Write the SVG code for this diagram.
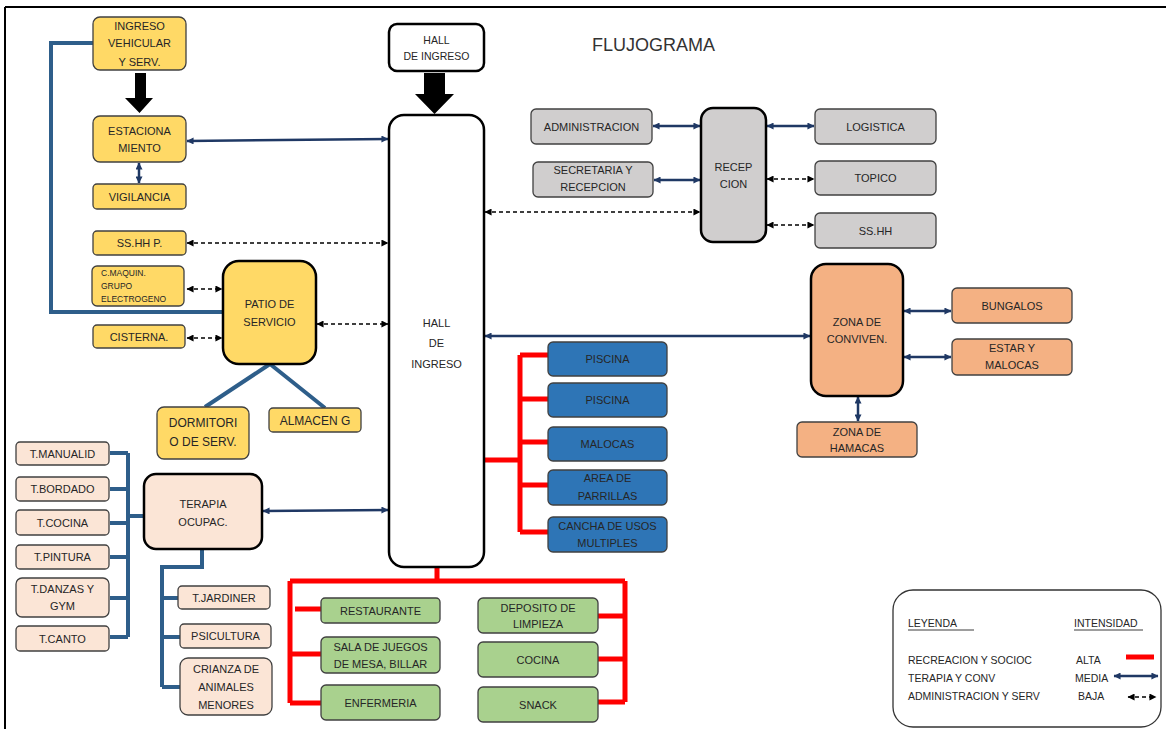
<svg xmlns="http://www.w3.org/2000/svg" width="1166" height="729" viewBox="0 0 1166 729">
<defs>
<marker id="nv" viewBox="0 0 8 8" refX="7.5" refY="4" markerWidth="8" markerHeight="7" markerUnits="userSpaceOnUse" orient="auto-start-reverse"><path d="M0,0 L8,4 L0,8 z" fill="#1F3864"/></marker>
<marker id="bk" viewBox="0 0 8 8" refX="7.5" refY="4" markerWidth="8" markerHeight="7" markerUnits="userSpaceOnUse" orient="auto-start-reverse"><path d="M0,0 L8,4 L0,8 z" fill="#000"/></marker>
<style>
text{font-family:"Liberation Sans",Arial,sans-serif;font-size:11px;fill:#262626;text-anchor:middle}
.b{stroke:#404040;stroke-width:1.3}
.big{stroke:#000;stroke-width:2.5}
.y{fill:#FFD966}.p{fill:#FBE5D6}.g{fill:#D0CECE}.o{fill:#F4B183}.bl{fill:#2E75B6}.gr{fill:#A9D18E}.w{fill:#fff}
.nv{fill:none;stroke:#1F3864;stroke-width:2.5;marker-start:url(#nv);marker-end:url(#nv)}
.ds{fill:none;stroke:#000;stroke-width:1.3;stroke-dasharray:4 3;marker-start:url(#bk);marker-end:url(#bk)}
.sb{fill:none;stroke:#2E5E8A;stroke-width:4}
.rd{fill:none;stroke:#FF0000;stroke-width:5}
.lg{text-anchor:start;font-size:10.5px}
</style>
</defs>
<rect width="1166" height="729" fill="#fff"/>
<path d="M5,7 H1166 M5,7 V729" stroke="#000" stroke-width="2" fill="none"/>
<text x="592" y="51" style="font-size:18px;text-anchor:start;fill:#333">FLUJOGRAMA</text>

<g id="connectors">
<polygon points="135,73 146,73 146,98 153,98 139.5,113 125,98 135,98" fill="#000"/>
<polygon points="424,73 445,73 445,94 454,94 434.5,114 415,94 424,94" fill="#000"/>
<path class="sb" d="M93,43 H51 V312 H223"/>
<path class="sb" d="M270,364 L205,407 M270,364 L325,408"/>
<path class="sb" d="M128,453 V637 M110,453 H128 M110,489 H128 M110,523 H128 M110,557 H128 M110,598 H128 M110,637 H128 M128,516 H144"/>
<path class="sb" d="M202,549 V567 H162 V687 M162,598 H178 M162,637 H180 M162,687 H180"/>
<path class="rd" d="M485,460 H520 M520,355 V532 M520,355 H548 M520,399 H548 M520,442 H548 M520,485 H548 M520,532 H548"/>
<path class="rd" d="M437,567 V581 M290,581 H625 M290,581 V703 M625,581 V702 M295,609 H321 M290,654 H321 M290,703 H321 M598,616 H625 M598,659 H625 M598,702 H625"/>
<path class="nv" d="M187,141 L388,139"/>
<path class="nv" d="M139,163 V183"/>
<path class="nv" d="M263,511 L388,510"/>
<path class="nv" d="M485,336 H810"/>
<path class="nv" d="M653,126 H700"/>
<path class="nv" d="M654,180 H700"/>
<path class="nv" d="M767,126 H814"/>
<path class="nv" d="M904,311 H951"/>
<path class="nv" d="M904,357 H951"/>
<path class="nv" d="M858,397 V421"/>
<path class="ds" d="M187,243 H388"/>
<path class="ds" d="M187,289 H222"/>
<path class="ds" d="M187,338 H222"/>
<path class="ds" d="M317,324 H388"/>
<path class="ds" d="M485,212 H700"/>
<path class="ds" d="M767,179 H814"/>
<path class="ds" d="M767,225 H814"/>
</g>

<g id="ingreso"><rect class="b y" x="93" y="17" width="93" height="53" rx="7"/><text x="139.5" y="30">INGRESO</text><text x="139.5" y="47">VEHICULAR</text><text x="139.5" y="66">Y SERV.</text></g>
<g id="estacionamiento"><rect class="b y" x="93" y="116" width="93" height="46" rx="7"/><text x="139.5" y="135">ESTACIONA</text><text x="139.5" y="152">MIENTO</text></g>
<g id="vigilancia"><rect class="b y" x="93" y="184" width="93" height="25" rx="4"/><text x="139.5" y="200.5">VIGILANCIA</text></g>
<g id="sshhp"><rect class="b y" x="93" y="231" width="93" height="24" rx="4"/><text x="139.5" y="247">SS.HH P.</text></g>
<g id="cmaquin"><rect class="b y" x="92" y="266" width="92" height="40" rx="5"/><text x="101" y="276" style="text-anchor:start;font-size:8.5px">C.MAQUIN.</text><text x="101" y="289" style="text-anchor:start;font-size:8.5px">GRUPO</text><text x="101" y="302" style="text-anchor:start;font-size:8.5px">ELECTROGENO</text></g>
<g id="cisterna"><rect class="b y" x="93" y="325" width="92" height="23" rx="4"/><text x="139" y="341">CISTERNA.</text></g>
<g id="patio"><rect class="big y" x="223" y="261" width="93" height="103" rx="16"/><text x="269.5" y="308">PATIO DE</text><text x="269.5" y="326">SERVICIO</text></g>
<g id="dormitorio"><rect class="b y" x="157" y="407" width="92" height="52" rx="7"/><text x="203" y="427" style="font-size:12px">DORMITORI</text><text x="203" y="446" style="font-size:12px">O DE SERV.</text></g>
<g id="almacen"><rect class="b y" x="269" y="408" width="92" height="24" rx="4"/><text x="315" y="424.5" style="font-size:12px">ALMACEN G</text></g>

<g id="tmanualid"><rect class="b p" x="16" y="442" width="93" height="23" rx="4"/><text x="62.5" y="458">T.MANUALID</text></g>
<g id="tbordado"><rect class="b p" x="16" y="477" width="93" height="24" rx="4"/><text x="62.5" y="493">T.BORDADO</text></g>
<g id="tcocina"><rect class="b p" x="16" y="510" width="93" height="25" rx="4"/><text x="62.5" y="527">T.COCINA</text></g>
<g id="tpintura"><rect class="b p" x="16" y="545" width="93" height="24" rx="4"/><text x="62.5" y="561">T.PINTURA</text></g>
<g id="tdanzas"><rect class="b p" x="16" y="578" width="93" height="39" rx="6"/><text x="62.5" y="593">T.DANZAS Y</text><text x="62.5" y="610">GYM</text></g>
<g id="tcanto"><rect class="b p" x="16" y="626" width="93" height="25" rx="4"/><text x="62.5" y="643">T.CANTO</text></g>
<g id="terapia"><rect class="big p" x="144" y="474" width="118" height="75" rx="12"/><text x="203" y="508">TERAPIA</text><text x="203" y="526">OCUPAC.</text></g>
<g id="tjardiner"><rect class="b p" x="178" y="586" width="92" height="23" rx="4"/><text x="224" y="602">T.JARDINER</text></g>
<g id="psicultura"><rect class="b p" x="180" y="624" width="91" height="24" rx="4"/><text x="225.5" y="640">PSICULTURA</text></g>
<g id="crianza"><rect class="b p" x="180" y="658" width="92" height="57" rx="8"/><text x="226" y="673">CRIANZA DE</text><text x="226" y="691">ANIMALES</text><text x="226" y="709">MENORES</text></g>

<g id="hall-top"><rect class="big w" x="389" y="24" width="95" height="47" rx="8"/><text x="436.5" y="44" style="font-size:10.5px">HALL</text><text x="436.5" y="60" style="font-size:10.5px">DE INGRESO</text></g>
<g id="hall"><rect class="big w" x="389" y="115" width="95" height="452" rx="15"/><text x="436.5" y="327">HALL</text><text x="436.5" y="347">DE</text><text x="436.5" y="368">INGRESO</text></g>

<g id="administracion"><rect class="b g" x="531" y="109" width="121" height="35" rx="5"/><text x="591.5" y="131">ADMINISTRACION</text></g>
<g id="secretaria"><rect class="b g" x="533" y="162" width="120" height="35" rx="5"/><text x="593" y="174">SECRETARIA Y</text><text x="593" y="191">RECEPCION</text></g>
<g id="recepcion"><rect class="big g" x="701" y="108" width="65" height="134" rx="12"/><text x="733.5" y="171">RECEP</text><text x="733.5" y="188">CION</text></g>
<g id="logistica"><rect class="b g" x="815" y="109" width="121" height="35" rx="5"/><text x="875.5" y="131">LOGISTICA</text></g>
<g id="topico"><rect class="b g" x="815" y="161" width="121" height="34" rx="5"/><text x="875.5" y="182">TOPICO</text></g>
<g id="sshh"><rect class="b g" x="815" y="213" width="121" height="35" rx="5"/><text x="875.5" y="235">SS.HH</text></g>

<g id="zona-conviven"><rect class="big o" x="811" y="264" width="92" height="132" rx="15"/><text x="857" y="326">ZONA DE</text><text x="857" y="343">CONVIVEN.</text></g>
<g id="bungalos"><rect class="b o" x="952" y="288" width="120" height="35" rx="5"/><text x="1012" y="310">BUNGALOS</text></g>
<g id="estar"><rect class="b o" x="952" y="339" width="120" height="36" rx="5"/><text x="1012" y="352">ESTAR Y</text><text x="1012" y="369">MALOCAS</text></g>
<g id="hamacas"><rect class="b o" x="797" y="422" width="120" height="35" rx="5"/><text x="857" y="436">ZONA DE</text><text x="857" y="452">HAMACAS</text></g>

<g id="piscina1"><rect class="b bl" x="548" y="342" width="119" height="34" rx="5"/><text x="607.5" y="363">PISCINA</text></g>
<g id="piscina2"><rect class="b bl" x="548" y="383" width="119" height="34" rx="5"/><text x="607.5" y="404">PISCINA</text></g>
<g id="malocas"><rect class="b bl" x="548" y="427" width="119" height="34" rx="5"/><text x="607.5" y="448">MALOCAS</text></g>
<g id="parrillas"><rect class="b bl" x="548" y="470" width="119" height="35" rx="5"/><text x="607.5" y="482">AREA DE</text><text x="607.5" y="500">PARRILLAS</text></g>
<g id="cancha"><rect class="b bl" x="548" y="517" width="119" height="35" rx="5"/><text x="607.5" y="530">CANCHA DE USOS</text><text x="607.5" y="547">MULTIPLES</text></g>

<g id="restaurante"><rect class="b gr" x="321" y="598" width="119" height="25" rx="4"/><text x="380.5" y="615">RESTAURANTE</text></g>
<g id="sala"><rect class="b gr" x="321" y="637" width="119" height="36" rx="5"/><text x="380.5" y="651">SALA DE JUEGOS</text><text x="380.5" y="668">DE MESA, BILLAR</text></g>
<g id="enfermeria"><rect class="b gr" x="321" y="685" width="119" height="35" rx="5"/><text x="380.5" y="707">ENFERMERIA</text></g>
<g id="deposito"><rect class="b gr" x="478" y="598" width="120" height="35" rx="5"/><text x="538" y="612">DEPOSITO DE</text><text x="538" y="628">LIMPIEZA</text></g>
<g id="cocina"><rect class="b gr" x="478" y="642" width="120" height="35" rx="5"/><text x="538" y="664">COCINA</text></g>
<g id="snack"><rect class="b gr" x="478" y="687" width="120" height="35" rx="5"/><text x="538" y="709">SNACK</text></g>

<g id="leyenda">
<rect x="893" y="590" width="268" height="137" rx="20" fill="#fff" stroke="#333" stroke-width="1.3"/>
<text class="lg" x="908" y="627">LEYENDA</text>
<line x1="908" y1="630" x2="974" y2="630" stroke="#262626" stroke-width="0.9"/>
<text class="lg" x="1074" y="627">INTENSIDAD</text>
<line x1="1074" y1="630" x2="1143" y2="630" stroke="#262626" stroke-width="0.9"/>
<text class="lg" x="908" y="664">RECREACION Y SOCIOC</text>
<text class="lg" x="908" y="682">TERAPIA Y CONV</text>
<text class="lg" x="908" y="700">ADMINISTRACION Y SERV</text>
<text class="lg" x="1076" y="664">ALTA</text>
<text class="lg" x="1075" y="682">MEDIA</text>
<text class="lg" x="1078" y="700">BAJA</text>
<path class="rd" d="M1126,657 H1154"/>
<path class="nv" d="M1114,676 H1158"/>
<path class="ds" d="M1128,697 H1156"/>
</g>
</svg>
